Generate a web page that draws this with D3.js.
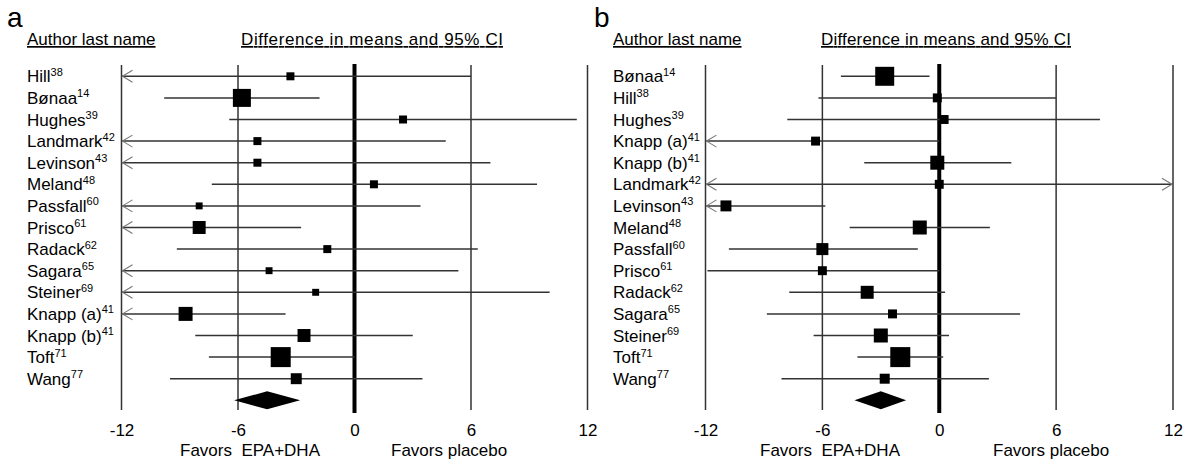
<!DOCTYPE html>
<html><head><meta charset="utf-8">
<script src="https://cdn.jsdelivr.net/npm/d3@7"></script>
<style>body{margin:0;background:#fff}svg{display:block;font-family:"Liberation Sans",Arial,sans-serif}</style>
</head><body><svg id="c" width="1189" height="465"></svg>
<script>
// ---- data ----
const ticks = [-12, -6, 0, 6, 12];
const namesA = ["Hill","Bønaa","Hughes","Landmark","Levinson","Meland","Passfall","Prisco","Radack","Sagara","Steiner","Knapp (a)","Knapp (b)","Toft","Wang"];
const refsA  = ["38","14","39","42","43","48","60","61","62","65","69","41","41","71","77"];
const meanA  = [-3.3,-5.8,2.5,-5.0,-5.0,1.0,-8.0,-8.0,-1.4,-4.4,-2.0,-8.7,-2.6,-3.8,-3.0];
const lowA   = [-14,-9.8,-6.45,-14,-14,-7.35,-14,-14,-9.15,-14,-14,-14,-8.2,-7.5,-9.5];
const highA  = [6.0,-1.8,11.45,4.7,7.0,9.4,3.4,-2.75,6.35,5.35,10.05,-3.55,3.0,0.0,3.5];
const weightA= [1.6,8.1,1.6,1.6,1.6,1.6,1.2,4.2,1.6,1.2,1.2,4.9,4.2,10,3.0];
const pooledA= [-6.2,-4.5,-2.8]; // lower, estimate, upper

const namesB = ["Bønaa","Hill","Hughes","Knapp (a)","Knapp (b)","Landmark","Levinson","Meland","Passfall","Prisco","Radack","Sagara","Steiner","Toft","Wang"];
const refsB  = ["14","38","39","41","41","42","43","48","60","61","62","65","69","71","77"];
const meanB  = [-2.8,-0.1,0.25,-6.35,-0.1,0.0,-10.95,-1.0,-6.0,-6.0,-3.7,-2.4,-3.0,-2.0,-2.8];
const lowB   = [-5.05,-6.2,-7.8,-14,-3.85,-14,-14,-4.6,-10.8,-11.9,-7.7,-8.85,-6.45,-4.2,-8.1];
const highB  = [-0.5,6.0,8.25,0.0,3.7,14,-5.85,2.6,-1.1,0.0,0.3,4.15,0.5,0.2,2.55];
const weightB= [9.0,2.0,2.0,2.0,4.9,2.0,3.0,4.9,3.6,2.0,4.2,2.0,4.9,10,2.5];
const pooledB= [-4.35,-3.0,-1.7];

const panels = [
  {letter:"a", names:namesA, refs:refsA, mean:meanA, low:lowA, high:highA, w:weightA, pooled:pooledA,
   x0:121.5, x1:587.5, labelX:27, letterX:7, diffX:241, diffW:262, epaX:180, placeboX:391},
  {letter:"b", names:namesB, refs:refsB, mean:meanB, low:lowB, high:highB, w:weightB, pooled:pooledB,
   x0:705.5, x1:1173, labelX:613, letterX:594, diffX:821, diffW:250, epaX:760, placeboX:993}
];

const svg = d3.select("#c");
const size = d3.scaleSqrt().domain([0,10]).range([0,20]);
const y = d3.scalePoint().domain(d3.range(16)).range([76.3, 400.3]);

panels.forEach(p => {
  const x = d3.scaleLinear().domain([-12,12]).range([p.x0, p.x1]);
  const g = svg.append("g");
  // header
  g.append("text").attr("x", p.letterX).attr("y", 27).attr("font-size", 28).text(p.letter);
  g.append("text").attr("x", p.labelX).attr("y", 45).attr("font-size", 17)
    .attr("text-decoration","underline").text("Author last name");
  g.append("text").attr("x", p.diffX).attr("y", 45).attr("font-size", 17)
    .attr("text-decoration","underline").attr("textLength", p.diffW).text("Difference in means and 95% CI");
  // vertical lines
  ticks.forEach(t => {
    g.append("line").attr("x1", x(t)).attr("x2", x(t))
      .attr("y1", t===0?64:65).attr("y2", t===0?413:410)
      .attr("stroke", t===0?"#000":"#333").attr("stroke-width", t===0?4:1.5);
  });
  // axis tick labels
  const ax = d3.axisBottom(x).tickValues(ticks).tickSize(0).tickPadding(0);
  const axg = g.append("g").attr("transform","translate(0,420)").call(ax);
  axg.select(".domain").remove();
  axg.selectAll("text").attr("font-size",17).attr("font-family","Liberation Sans, Arial, sans-serif").attr("fill","#000")
     .attr("dy","0.95em").text(d => d<0 ? "-" + Math.abs(d) : d);
  g.append("text").attr("x", p.epaX).attr("y", 456).attr("font-size", 17).attr("xml:space","preserve").text("Favors  EPA+DHA");
  g.append("text").attr("x", p.placeboX).attr("y", 456).attr("font-size", 17).text("Favors placebo");

  // rows
  p.names.forEach((n, i) => {
    const yy = y(i);
    const t = g.append("text").attr("x", p.labelX).attr("y", yy+6).attr("font-size",17).text(n);
    t.append("tspan").attr("font-size",11).attr("dy",-6.5).text(p.refs[i]);
    const lo = Math.max(p.low[i], -12), hi = Math.min(p.high[i], 12);
    g.append("line").attr("x1", x(lo)).attr("x2", x(hi)).attr("y1", yy).attr("y2", yy)
      .attr("stroke","#333").attr("stroke-width",1.5);
    if (p.low[i] < -12) {
      g.append("path").attr("d", `M${x(-12)+11},${yy-6}L${x(-12)+1},${yy}L${x(-12)+11},${yy+6}`)
        .attr("fill","none").attr("stroke","#777").attr("stroke-width",1.1);
    }
    if (p.high[i] > 12) {
      g.append("path").attr("d", `M${x(12)-11},${yy-6}L${x(12)-1},${yy}L${x(12)-11},${yy+6}`)
        .attr("fill","none").attr("stroke","#777").attr("stroke-width",1.1);
    }
    const s = size(p.w[i]);
    g.append("rect").attr("x", x(p.mean[i]) - s/2).attr("y", yy - s/2)
      .attr("width", s).attr("height", s).attr("fill","#000");
  });
  // pooled diamond
  const yd = y(15);
  const [l, m, h] = p.pooled;
  g.append("path").attr("d", `M${x(l)},${yd}L${x(m)},${yd-9}L${x(h)},${yd}L${x(m)},${yd+9}Z`).attr("fill","#000");
});
</script></body></html>
